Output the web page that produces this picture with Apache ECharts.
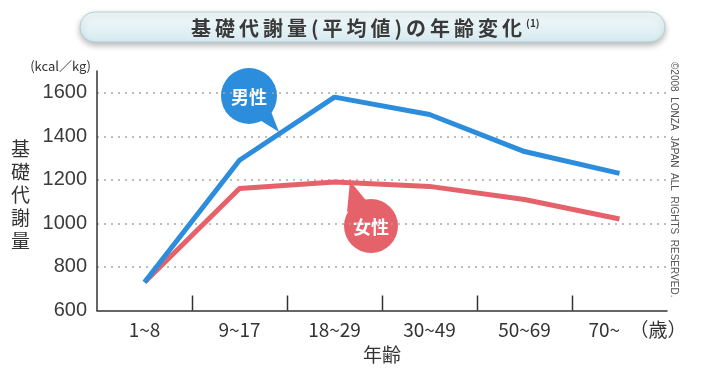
<!DOCTYPE html>
<html>
<head>
<meta charset="utf-8">
<script src="https://cdn.jsdelivr.net/npm/echarts@6/dist/echarts.min.js"></script>
<style>
  html, body { margin: 0; padding: 0; background: #fff; }
  #main { width: 720px; height: 376px; }
</style>
</head>
<body>
<div id="main"></div>
<script>
// 年齢区分
var ageGroups = ['1~8', '9~17', '18~29', '30~49', '50~69', '70~'];
// 基礎代謝量 (kcal/kg) 読み取り値
var maleValues = [730, 1290, 1580, 1500, 1330, 1230];
var femaleValues = [730, 1160, 1190, 1170, 1110, 1020];
var yTicks = [600, 800, 1000, 1200, 1400, 1600];

var blue = '#2b8ddc';
var red = '#e6626a';
var font = '"Noto Sans CJK JP", "Liberation Sans", sans-serif';

var titleText = '基礎代謝量(平均値)の年齢変化'.split('').join('\u2009');

var myChart = echarts.init(document.getElementById('main'));

// 1700 は軸線の延長分だけ、ラベルと補助線は出さない
var gridColors = yTicks.map(function (v, i) { return i === 0 ? 'transparent' : '#a8a8a8'; });
gridColors.push('transparent');

// 区分の境目に内向きの目盛りを描く
function renderBoundaryTick(params, api) {
    var p = api.coord([api.value(0), yTicks[0]]);
    var w = api.size([1, 0])[0];
    var x = Math.round(p[0] - w / 2) + 0.5;
    return {
        type: 'line',
        shape: { x1: x, y1: p[1], x2: x, y2: p[1] - 15 },
        style: { stroke: '#333', lineWidth: 1.5 }
    };
}

myChart.setOption({
    animation: false,
    title: {
        text: titleText + '{sup|(1)}',
        left: 186,
        top: 13,
        textStyle: {
            fontFamily: font,
            fontSize: 20,
            fontWeight: 'bold',
            color: '#3a3a3a',
            rich: {
                sup: { fontSize: 10, color: '#3a3a3a', verticalAlign: 'top', padding: [0, 0, 10, 4] }
            }
        }
    },
    grid: { left: 97, right: 53, top: 71, bottom: 65.5 },
    xAxis: {
        type: 'category',
        data: ageGroups,
        name: '年齢',
        nameLocation: 'middle',
        nameGap: 35,
        nameTextStyle: { fontFamily: font, fontSize: 19, color: '#333' },
        axisLine: { show: true, lineStyle: { color: '#333', width: 1.5 } },
        axisTick: { show: false },
        axisLabel: {
            interval: 0,
            hideOverlap: false,
            fontFamily: font,
            fontSize: 19,
            color: '#333',
            margin: 10,
            formatter: function (v) {
                return v === ageGroups[ageGroups.length - 1] ? '{last|' + v + '\u3000（歳）}' : v;
            },
            rich: {
                last: { fontFamily: font, fontSize: 19, color: '#333', padding: [0, 0, 0, 36] }
            }
        }
    },
    yAxis: {
        type: 'value',
        min: 600,
        max: 1700,
        interval: 200,
        name: '(kcal／kg)',
        nameLocation: 'end',
        nameGap: -2,
        nameTextStyle: { fontFamily: font, fontSize: 13, color: '#333', align: 'right', padding: [0, 6, 0, 0] },
        axisLine: { show: true, lineStyle: { color: '#333', width: 1.5 } },
        axisTick: { show: false },
        axisLabel: {
            fontFamily: '"Liberation Sans", Arial, sans-serif',
            fontSize: 20,
            color: '#3a3a3a',
            margin: 10,
            showMaxLabel: false,
            formatter: function (v) { return String(v); }
        },
        splitLine: {
            show: true,
            lineStyle: { color: gridColors, type: [2, 5], width: 1.5 }
        }
    },
    series: [
        {
            name: '男性',
            type: 'line',
            data: maleValues,
            symbol: 'none',
            lineStyle: { color: blue, width: 5 },
            z: 3
        },
        {
            name: '女性',
            type: 'line',
            data: femaleValues,
            symbol: 'none',
            lineStyle: { color: red, width: 5 },
            z: 2
        },
        {
            name: 'ticks',
            type: 'custom',
            silent: true,
            renderItem: renderBoundaryTick,
            data: ageGroups.slice(1).map(function (c, i) { return [i + 1]; }),
            encode: { x: 0 },
            z: 1
        }
    ],
    graphic: [
        // タイトルの枠
        {
            type: 'rect',
            z: -1,
            shape: { x: 80, y: 12, width: 585, height: 30, r: 15 },
            style: {
                fill: new echarts.graphic.LinearGradient(0, 0, 0, 1, [
                    { offset: 0, color: '#f4fafb' },
                    { offset: 1, color: '#d6eaef' }
                ]),
                stroke: '#b0d0d9',
                lineWidth: 1,
                shadowBlur: 6,
                shadowOffsetY: 3,
                shadowColor: 'rgba(0,0,0,0.28)'
            }
        },
        // 縦軸タイトル
        {
            type: 'text',
            left: 11,
            top: 137,
            style: {
                text: '基\n礎\n代\n謝\n量',
                font: '19px ' + font,
                fill: '#333',
                lineHeight: 23
            }
        },
        // コピーライト
        {
            type: 'text',
            x: 679,
            y: 62,
            rotation: -Math.PI / 2,
            style: {
                text: '©2008  LONZA  JAPAN  ALL  RIGHTS  RESERVED.',
                font: '10px "Liberation Sans", Arial, sans-serif',
                fill: '#555'
            }
        },
        // 男性の吹き出し
        {
            type: 'group',
            children: [
                { type: 'polygon', shape: { points: [[255, 117], [270, 109], [279, 132]] }, style: { fill: blue } },
                { type: 'circle', shape: { cx: 249, cy: 96, r: 28 }, style: { fill: blue } },
                {
                    type: 'text', x: 249, y: 97,
                    style: { text: '男性', font: 'bold 18px ' + font, fill: '#fff', align: 'center', verticalAlign: 'middle' }
                }
            ]
        },
        // 女性の吹き出し
        {
            type: 'group',
            children: [
                { type: 'polygon', shape: { points: [[350, 181], [347, 212], [369, 204]] }, style: { fill: red } },
                { type: 'circle', shape: { cx: 371, cy: 226, r: 27 }, style: { fill: red } },
                {
                    type: 'text', x: 371, y: 227,
                    style: { text: '女性', font: 'bold 18px ' + font, fill: '#fff', align: 'center', verticalAlign: 'middle' }
                }
            ]
        }
    ]
});
</script>
</body>
</html>
